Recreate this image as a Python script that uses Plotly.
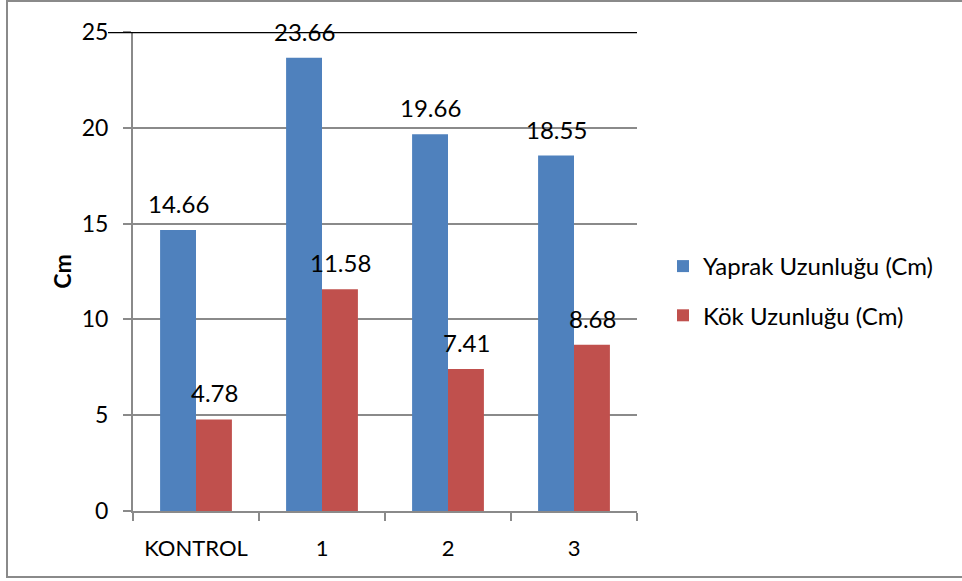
import plotly.graph_objects as go

categories = ["KONTROL", "1", "2", "3"]
yaprak = [14.66, 23.66, 19.66, 18.55]
kok = [4.78, 11.58, 7.41, 8.68]
series_names = ["Yaprak Uzunluğu (Cm)", "Kök Uzunluğu (Cm)"]
y_ticks = [0, 5, 10, 15, 20, 25]

BLUE = "#4F81BD"
RED = "#C0504D"
GREY = "#8A8A8A"
FONT = "Lato"

W, H = 962, 581
L, R, T, B = 133, 325, 32, 70
pw = W - L - R
ph = H - T - B

fig = go.Figure()
fig.add_trace(go.Bar(x=categories, y=yaprak, name=series_names[0], marker_color=BLUE,
                     marker_line_width=0, legendgroup="a"))
fig.add_trace(go.Bar(x=categories, y=kok, name=series_names[1], marker_color=RED,
                     marker_line_width=0, legendgroup="b"))

annotations = []
for vals, shift in ((yaprak, -18), (kok, 18)):
    for c, v in zip(categories, vals):
        annotations.append(dict(x=c, y=v, text=f"{v:.2f}", showarrow=False,
                                xshift=shift, yshift=10, yanchor="bottom",
                                font=dict(family=FONT, size=24, color="black")))

shapes = [
    # black top line at 25
    dict(type="line", xref="paper", yref="y", x0=(108 - L) / pw, x1=1, y0=25, y1=25,
         line=dict(color="black", width=2.5), layer="above"),
    # outer chart border (right edge falls outside the picture)
    dict(type="rect", xref="paper", yref="paper",
         x0=(7 - L) / pw, x1=(1010 - L) / pw,
         y0=(H - B - 577) / ph, y1=(H - B - 1) / ph,
         line=dict(color=GREY, width=2), layer="below"),
]

fig.update_layout(
    width=W, height=H,
    margin=dict(l=L, r=R, t=T, b=B, pad=0),
    paper_bgcolor="white", plot_bgcolor="white",
    barmode="group", bargap=0.43, bargroupgap=0,
    font=dict(family=FONT, size=22, color="black"),
    showlegend=True,
    legend=dict(x=(663 - L) / pw, y=(H - B - 291) / ph, xanchor="left", yanchor="middle",
                font=dict(family=FONT, size=24, color="black"),
                tracegroupgap=15, itemwidth=30, bgcolor="rgba(0,0,0,0)"),
    annotations=annotations,
    shapes=shapes,
)
fig.update_xaxes(
    showline=True, linecolor=GREY, linewidth=2, ticks="outside", tickson="boundaries",
    ticklen=8, tickcolor=GREY, tickwidth=2, showgrid=False, automargin=False,
    tickfont=dict(family=FONT, size=22), ticklabelstandoff=17,
)
fig.update_yaxes(
    range=[0, 25], tickvals=y_ticks, showline=True, linecolor=GREY, linewidth=2,
    ticks="outside", ticklen=8, tickcolor=GREY, tickwidth=2, automargin=False,
    showgrid=True, gridcolor=GREY, gridwidth=2, zeroline=False,
    tickfont=dict(family=FONT, size=23), ticklabelstandoff=10,
    title=dict(text="<b>Cm</b>", font=dict(family=FONT, size=23), standoff=4),
)

fig.write_html("out.html", config={"displayModeBar": False},
               post_script="document.body.style.margin='0';")
